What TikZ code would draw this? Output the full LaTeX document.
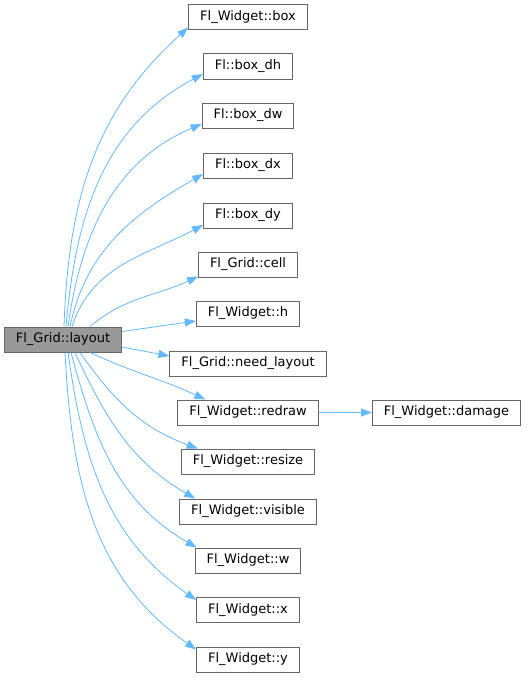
\documentclass[tikz,border=0pt]{standalone}
\usepackage{fontspec}
\setmainfont{DejaVu Sans}
\usetikzlibrary{arrows.meta}
\definecolor{edgeblue}{HTML}{63B8FF}
\definecolor{boxgrey}{HTML}{666666}
\definecolor{rootgrey}{HTML}{999999}
\tikzset{
  fn/.style={draw=boxgrey, line width=1pt, fill=white, minimum height=25pt,
    inner xsep=11.5pt, inner ysep=0pt, font=\fontsize{13}{15}\selectfont},
  root/.style={fn, fill=rootgrey},
  call/.style={edgeblue, line width=0.8pt, -{Triangle[length=11pt,width=8pt]}},
}
\begin{document}
\begin{tikzpicture}[x=1pt,y=-1pt]
                \useasboundingbox (0,0) rectangle (528,677);
                \node[root] (layout) at (63,339.5) {Fl\_Grid::layout};
                % called functions, one per row
                \foreach \name/\txt/\y in {box/Fl\_Widget::box/17.5, boxdh/Fl::box\_dh/66.5,
                    boxdw/Fl::box\_dw/115.5, boxdx/Fl::box\_dx/165.5, boxdy/Fl::box\_dy/215.5,
                    cell/Fl\_Grid::cell/264.5, wh/Fl\_Widget::h/313.5,
                    needlayout/Fl\_Grid::need\_layout/363.5, redraw/Fl\_Widget::redraw/412.5,
                    resize/Fl\_Widget::resize/461.5, visible/Fl\_Widget::visible/511.5,
                    ww/Fl\_Widget::w/560.5, wx/Fl\_Widget::x/610, wy/Fl\_Widget::y/659.5}
                \node[fn] (\name) at (248,\y) {\txt};
                \node[fn] (damage) at (446.5,412.5) {Fl\_Widget::damage};
                % calls going up
                \foreach \t/\sx/\out/\ys/\in in {box/1/88/-10/222, boxdh/3/85/-7.5/208,
                    boxdw/5/82/-8.5/203, boxdx/7/78/-8.5/210, boxdy/9/72/-9.5/208,
                    cell/27/40/-12/205}
                \draw[call] ([xshift=\sx pt]layout.north) to[out=\out,in=\in] ([yshift=\ys pt]\t.west);
                \draw[call] ([yshift=8pt]layout.east) -- ([yshift=-7.5pt]wh.west);
                \draw[call] ([yshift=-7.5pt]layout.east) -- ([yshift=7.5pt]needlayout.west);
                \draw[call] ([xshift=27pt]layout.south) to[out=-25,in=155] ([xshift=28pt]redraw.north west);
                % calls going down
                \foreach \t/\sx/\out/\xs/\in in {resize/17/-55/17/160, visible/12/-65/16/150,
                    ww/8/-75/2/150}
                \draw[call] ([xshift=\sx pt]layout.south) to[out=\out,in=\in] ([xshift=\xs pt]\t.north west);
                \foreach \t/\sx/\out in {wx/5/-82, wy/2/-87}
                \draw[call] ([xshift=\sx pt]layout.south) to[out=\out,in=145] ([yshift=10pt]\t.west);
                \draw[call] (redraw) -- (damage);
            \end{tikzpicture}
\end{document}
